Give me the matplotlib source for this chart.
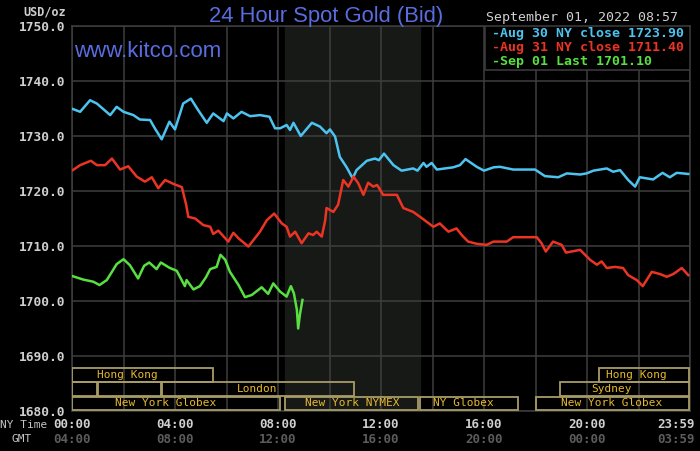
import matplotlib
matplotlib.use("Agg")
import matplotlib.pyplot as plt
import matplotlib.transforms as mtransforms
from matplotlib.patches import Rectangle
import numpy as np

# minutes after midnight (NY time) and bid price
blue_min = [2, 19, 42, 58, 89, 104, 120, 143, 158, 182,
            193, 209, 227, 240, 259, 277, 294, 314, 329, 353,
            361, 376, 395, 415, 438, 460, 473, 485, 500, 508,
            516, 533, 559, 578, 593, 601, 613, 624, 640, 654,
            663, 687, 706, 715, 727, 749, 768, 795, 805, 819,
            826, 838, 850, 888, 904, 917, 943, 960, 982, 997,
            1028, 1079, 1102, 1133, 1153, 1184, 1199, 1215, 1246, 1261,
            1277, 1296, 1312, 1323, 1354, 1376, 1393, 1409, 1436]
blue_val = [1734.9, 1734.4, 1736.5, 1735.9, 1733.8, 1735.3, 1734.4, 1733.8, 1733.0, 1732.9,
            1731.4, 1729.4, 1732.6, 1731.2, 1735.9, 1736.8, 1734.7, 1732.4, 1734.1, 1732.7,
            1734.1, 1733.2, 1734.4, 1733.6, 1733.8, 1733.5, 1731.4, 1731.4, 1732.0, 1731.1,
            1732.4, 1730.0, 1732.4, 1731.7, 1730.5, 1731.2, 1729.9, 1726.2, 1724.3, 1722.3,
            1723.8, 1725.5, 1725.9, 1725.6, 1726.8, 1724.7, 1723.7, 1724.1, 1723.7, 1725.1,
            1724.4, 1725.1, 1723.9, 1724.3, 1724.7, 1725.8, 1724.4, 1723.7, 1724.3, 1724.4,
            1723.9, 1723.9, 1722.7, 1722.5, 1723.2, 1723.0, 1723.2, 1723.7, 1724.1, 1723.5,
            1723.8, 1722.0, 1720.8, 1722.5, 1722.1, 1723.3, 1722.5, 1723.3, 1723.1]

red_min = [2, 19, 44, 58, 77, 93, 112, 131, 151, 170,
           186, 201, 217, 236, 256, 266, 271, 287, 306, 322,
           329, 341, 364, 376, 388, 411, 438, 454, 471, 489,
           500, 508, 520, 535, 551, 562, 570, 582, 590, 593,
           609, 620, 632, 644, 656, 667, 679, 690, 702, 711,
           725, 741, 757, 772, 795, 811, 842, 857, 877, 896,
           908, 923, 943, 966, 982, 1013, 1028, 1083, 1094, 1104,
           1121, 1141, 1151, 1184, 1207, 1223, 1234, 1246, 1265, 1284,
           1296, 1316, 1330, 1351, 1370, 1386, 1401, 1421, 1436]
red_val = [1723.8, 1724.7, 1725.5, 1724.7, 1724.7, 1725.9, 1723.9, 1724.5, 1722.6, 1721.7,
           1722.5, 1720.5, 1722.0, 1721.3, 1720.7, 1717.5, 1715.3, 1715.0, 1713.8, 1713.5,
           1712.2, 1712.8, 1710.8, 1712.4, 1711.4, 1709.9, 1712.6, 1714.7, 1715.9, 1714.1,
           1713.5, 1711.7, 1712.6, 1710.5, 1712.3, 1712.0, 1712.6, 1711.7, 1714.7, 1716.9,
           1716.2, 1717.5, 1722.0, 1720.8, 1722.6, 1721.4, 1719.3, 1721.5, 1720.8, 1721.1,
           1719.3, 1719.3, 1719.3, 1716.9, 1716.2, 1715.3, 1713.5, 1714.1, 1712.6, 1713.2,
           1712.0, 1710.8, 1710.4, 1710.2, 1710.8, 1710.8, 1711.6, 1711.6, 1710.5, 1709.0,
           1710.8, 1710.2, 1708.8, 1709.3, 1707.5, 1706.6, 1707.2, 1706.0, 1706.2, 1706.0,
           1704.7, 1703.8, 1702.7, 1705.3, 1704.9, 1704.4, 1704.9, 1706.0, 1704.7]

green_min = [2, 26, 50, 64, 81, 93, 104, 120, 135, 154,
             168, 180, 197, 207, 228, 244, 263, 267, 283, 298,
             312, 322, 337, 346, 357, 368, 388, 403, 419, 442,
             457, 469, 485, 500, 510, 517, 524, 527, 531, 537]
green_val = [1704.5, 1703.9, 1703.5, 1702.9, 1703.8, 1705.3, 1706.7, 1707.6, 1706.5, 1704.1,
             1706.4, 1707.0, 1705.8, 1707.0, 1706.0, 1705.5, 1702.7, 1703.8, 1702.1, 1702.7,
             1704.3, 1705.8, 1706.2, 1708.4, 1707.5, 1705.3, 1702.9, 1700.7, 1701.1, 1702.5,
             1701.3, 1703.2, 1701.7, 1700.8, 1702.7, 1701.4, 1698.4, 1695.0, 1697.5, 1700.2]

legend_labels = ["-Aug 30 NY close 1723.90", "-Aug 31 NY close 1711.40", "-Sep 01 Last 1701.10"]
ny_ticks = [0, 4, 8, 12, 16, 20, 24]
ny_labels = ["00:00", "04:00", "08:00", "12:00", "16:00", "20:00", "23:59"]
gmt_labels = ["04:00", "08:00", "12:00", "16:00", "20:00", "00:00", "03:59"]
y_ticks = [1680, 1690, 1700, 1710, 1720, 1730, 1740, 1750]

# trading sessions: (row, start hour, end hour, label, label hour)
sessions = [
    (0, 0.0, 5.47, "Hong Kong", 2.15),
    (0, 20.47, 23.95, "Hong Kong", 21.9),
    (1, 0.0, 0.97, "", 0),
    (1, 1.0, 3.47, "", 0),
    (1, 3.5, 10.95, "London", 7.2),
    (1, 18.95, 23.95, "Sydney", 20.97),
    (2, 0.0, 8.07, "New York Globex", 3.65),
    (2, 8.27, 13.45, "New York NYMEX", 10.9),
    (2, 13.5, 17.32, "NY Globex", 15.2),
    (2, 18.0, 23.95, "New York Globex", 20.97),
]

BLUE = "#4dc3f0"
RED = "#ec3424"
GREEN = "#58e040"
GRID = "#3e3e3e"
TITLE = "#5a6de0"
mono = "DejaVu Sans Mono"

fig = plt.figure(figsize=(7, 4.51), dpi=100, facecolor="black")
ax = fig.add_axes([72 / 700, 40 / 451, 618 / 700, 385 / 451], facecolor="black")
ax.set_axisbelow(True)

ax.axvspan(8.27, 13.5, color="#161916", zorder=0)

ax.plot(np.array(blue_min) / 60, blue_val, color=BLUE, lw=1.8, zorder=4)
ax.plot(np.array(red_min) / 60, red_val, color=RED, lw=1.8, zorder=4)
ax.plot(np.array(green_min) / 60, green_val, color=GREEN, lw=1.8, zorder=4)

ax.set_xlim(0, 24)
ax.set_ylim(1680, 1750)
ax.set_xticks(np.arange(0, 25, 2))
ax.set_xticklabels([])
ax.set_yticks(y_ticks)
ax.set_yticklabels(["%.1f" % v for v in y_ticks], family=mono, fontsize=9.3,
                   fontweight="bold", color="#cfcfcf")
ax.tick_params(length=0, pad=5)
ax.grid(True, color=GRID, lw=1.1)
for s in ax.spines.values():
    s.set_color(GRID)
    s.set_linewidth(1.1)

# session boxes
row_y = [(1685.27, 1687.82), (1682.73, 1685.27), (1680.18, 1682.55)]
for row, x0, x1, lab, lx in sessions:
    y0, y1 = row_y[row]
    ax.add_patch(Rectangle((x0, y0), x1 - x0, y1 - y0, fill=False,
                           edgecolor="#a89c66", lw=1.3, zorder=3))
    if lab:
        ax.text(lx, (y0 + y1) / 2, lab, ha="center", va="center", family=mono,
                fontsize=8, color="#e6b830", zorder=5)

# legend box
ax.add_patch(Rectangle((0.668, 0.886), 0.332, 0.114, transform=ax.transAxes,
                       facecolor="black", edgecolor=GRID, lw=1.1, zorder=3))
for lab, col, yy in zip(legend_labels, [BLUE, RED, GREEN], [0.980, 0.944, 0.907]):
    ax.text(0.680, yy, lab, transform=ax.transAxes, ha="left", va="center",
            family=mono, fontsize=9.5, fontweight="bold", color=col, zorder=5)

ax.text(0.003, 0.919, "www.kitco.com", transform=ax.transAxes, ha="left",
        va="baseline", family="Liberation Sans", fontsize=16, color=TITLE)

# time labels under axis
xt = ax.get_xaxis_transform()
for i, (h, a, b) in enumerate(zip(ny_ticks, ny_labels, gmt_labels)):
    tr = xt
    ha = "center"
    if i == len(ny_ticks) - 1:
        ha = "right"
        tr = mtransforms.offset_copy(xt, fig=fig, x=5, y=0, units="dots")
    ax.text(h, -0.036, a, transform=tr, ha=ha, va="center", family=mono,
            fontsize=9, fontweight="bold", color="#d0d0d0", clip_on=False)
    ax.text(h, -0.073, b, transform=tr, ha=ha, va="center", family=mono,
            fontsize=9, fontweight="bold", color="#5c5c5c", clip_on=False)

fig.text(47 / 700, 1 - 425 / 451, "NY Time", ha="right", va="center", family=mono,
         fontsize=8, color="#c4c4c4")
fig.text(11 / 700, 1 - 439 / 451, "GMT", ha="left", va="center", family=mono,
         fontsize=8, color="#c4c4c4")
fig.text(66 / 700, 1 - 12 / 451, "USD/oz", ha="right", va="center", family=mono,
         fontsize=8.5, fontweight="bold", color="#cfcfcf")

fig.text(326 / 700, 1 - 21.7 / 451, "24 Hour Spot Gold (Bid)", ha="center",
         va="baseline", family="Liberation Sans", fontsize=15.8, color=TITLE)
fig.text(678 / 700, 1 - 18 / 451, "September 01, 2022 08:57", ha="right",
         va="center", family=mono, fontsize=9.5, color="#cfcfcf")

fig.savefig("out.png", dpi=100, facecolor="black")
